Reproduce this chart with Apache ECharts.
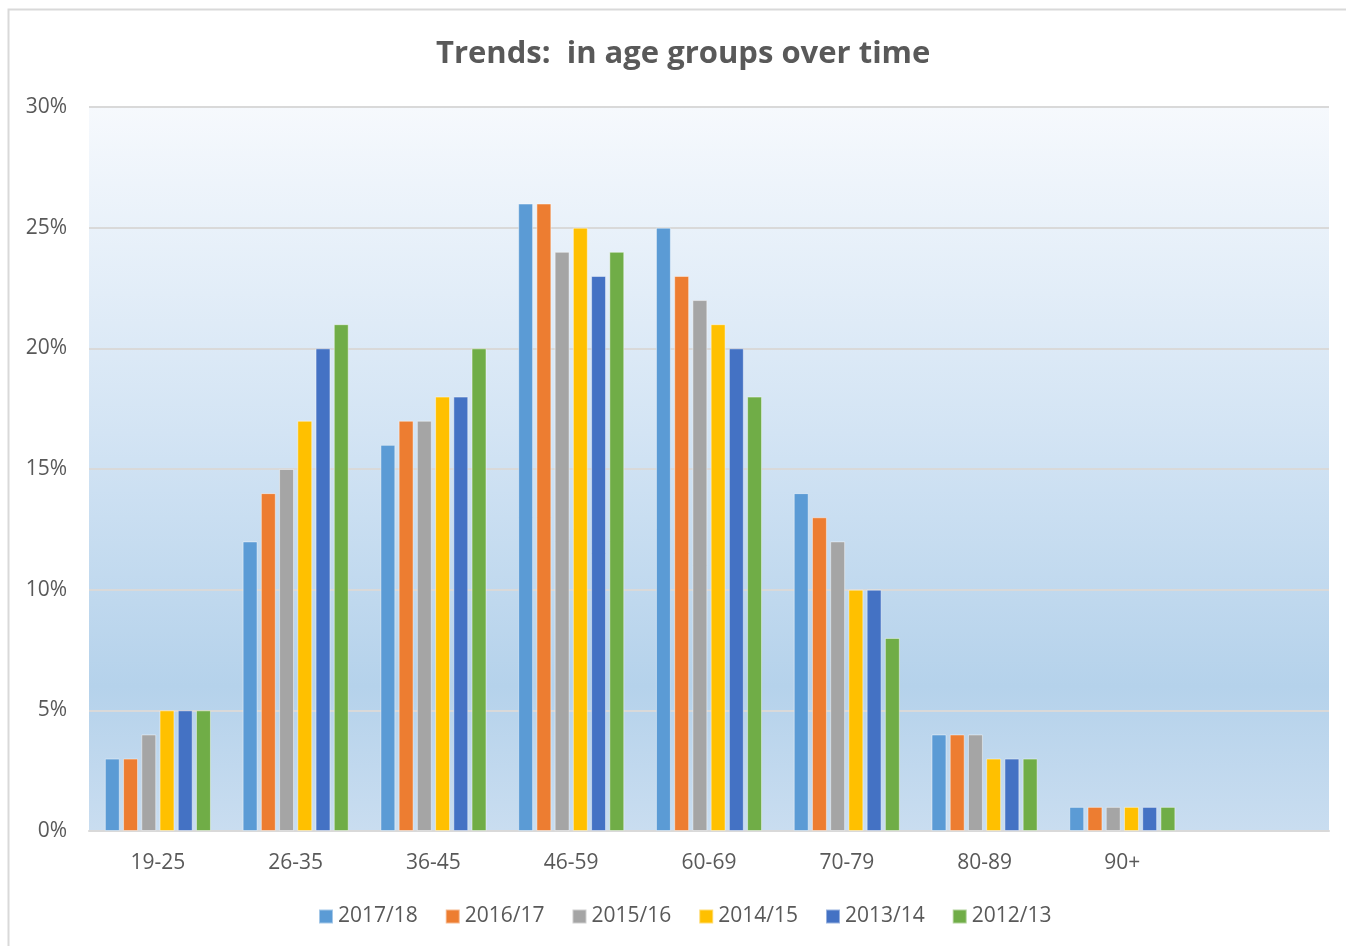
<!DOCTYPE html>
<html>
<head>
<meta charset="utf-8">
<script src="https://cdn.jsdelivr.net/npm/echarts@6/dist/echarts.min.js"></script>
<style>
  html, body { margin: 0; padding: 0; background: #fff; }
  #chart { width: 1346px; height: 946px; }
</style>
</head>
<body>
<div id="chart"></div>
<script>
// Age groups (last slot left empty, as in the source workbook)
const categories = ['19-25', '26-35', '36-45', '46-59', '60-69', '70-79', '80-89', '90+', ''];

// Share of people in each age group, per year (%)
const y2017_18 = [3, 12, 16, 26, 25, 14, 4, 1, null];
const y2016_17 = [3, 14, 17, 26, 23, 13, 4, 1, null];
const y2015_16 = [4, 15, 17, 24, 22, 12, 4, 1, null];
const y2014_15 = [5, 17, 18, 25, 21, 10, 3, 1, null];
const y2013_14 = [5, 20, 18, 23, 20, 10, 3, 1, null];
const y2012_13 = [5, 21, 20, 24, 18, 8, 3, 1, null];

const seriesNames = ['2017/18', '2016/17', '2015/16', '2014/15', '2013/14', '2012/13'];
const seriesData = [y2017_18, y2016_17, y2015_16, y2014_15, y2013_14, y2012_13];
const colors = ['#5b9bd5', '#ed7d31', '#a5a5a5', '#ffc000', '#4472c4', '#70ad47'];

const yTicks = [0, 5, 10, 15, 20, 25, 30];

const textColor = '#595959';
const font = '"Open Sans", "Noto Sans", sans-serif';

const chart = echarts.init(document.getElementById('chart'));

chart.setOption({
  animation: false,
  color: colors,
  title: {
    text: 'Trends:  in age groups over time',
    left: 431,
    top: 34,
    textStyle: { color: textColor, fontSize: 31, fontWeight: 'bold', fontFamily: font }
  },
  graphic: [{
    type: 'rect',
    shape: { x: 8.5, y: 9.5, width: 1400, height: 1000 },
    style: { fill: null, stroke: '#d9d9d9', lineWidth: 2 },
    silent: true,
    z: -1
  }],
  grid: {
    left: 89, right: 17, top: 107, bottom: 115,
    show: true,
    borderWidth: 0,
    backgroundColor: new echarts.graphic.LinearGradient(0, 0, 0, 1, [
      { offset: 0, color: '#f6f9fd' },
      { offset: 0.45, color: '#d3e4f4' },
      { offset: 0.8, color: '#b5d2eb' },
      { offset: 1, color: '#c9ddf0' }
    ])
  },
  legend: {
    bottom: 14,
    left: 313,
    itemWidth: 14,
    itemHeight: 14,
    itemGap: 27,
    icon: 'rect',
    textStyle: { color: textColor, fontSize: 21, fontFamily: font, padding: [0, 0, 0, 0] },
    data: seriesNames
  },
  xAxis: {
    type: 'category',
    data: categories,
    axisLine: { show: true, lineStyle: { color: '#d9d9d9', width: 2 } },
    axisTick: { show: false },
    axisLabel: { color: textColor, fontSize: 21, fontFamily: font, margin: 22 }
  },
  yAxis: {
    type: 'value',
    min: yTicks[0],
    max: yTicks[yTicks.length - 1],
    interval: 5,
    axisLine: { show: false },
    axisTick: { show: false },
    splitLine: { lineStyle: { color: '#d9d9d9', width: 2 } },
    axisLabel: { color: textColor, fontSize: 21, fontFamily: font, margin: 22, formatter: '{value}%' }
  },
  series: seriesNames.map((name, i) => ({
    name: name,
    type: 'bar',
    data: seriesData[i],
    barGap: '22%',
    barCategoryGap: '23%',
    itemStyle: { color: colors[i], borderColor: 'rgba(255,255,255,0.45)', borderWidth: 1 }
  }))
});
</script>
</body>
</html>
